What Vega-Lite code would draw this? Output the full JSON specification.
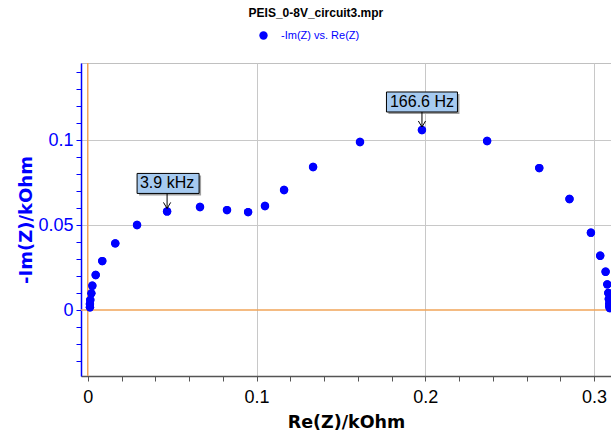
{
  "$schema": "https://vega.github.io/schema/vega-lite/v6.json",
  "width": 530,
  "height": 313,
  "autosize": {"type": "none"},
  "padding": {"left": 81, "top": 63, "right": 0, "bottom": 58},
  "background": "white",
  "title": {"text": "PEIS_0-8V_circuit3.mpr", "fontSize": 12, "fontWeight": "bold", "font": "Liberation Sans", "color": "black", "anchor": "middle", "frame": "bounds", "offset": 10},
  "config": {"view": {"stroke": "#c0c0c0"}, "font": "Liberation Sans"},
  "datasets": {
    "points": [
      {"re": 0.0013, "im": 0.0016}, {"re": 0.0013, "im": 0.0035}, {"re": 0.0015, "im": 0.0059},
      {"re": 0.0021, "im": 0.0098}, {"re": 0.0027, "im": 0.0143}, {"re": 0.0047, "im": 0.0206},
      {"re": 0.0086, "im": 0.0288}, {"re": 0.0163, "im": 0.0392}, {"re": 0.0292, "im": 0.0500},
      {"re": 0.0470, "im": 0.0580}, {"re": 0.0665, "im": 0.0606}, {"re": 0.0825, "im": 0.0588},
      {"re": 0.0950, "im": 0.0576}, {"re": 0.1050, "im": 0.0612}, {"re": 0.1163, "im": 0.0706},
      {"re": 0.1335, "im": 0.0841}, {"re": 0.1613, "im": 0.0988}, {"re": 0.1980, "im": 0.1059},
      {"re": 0.2366, "im": 0.0994}, {"re": 0.2675, "im": 0.0835}, {"re": 0.2854, "im": 0.0653},
      {"re": 0.2981, "im": 0.0455}, {"re": 0.3036, "im": 0.0319}, {"re": 0.3068, "im": 0.0225},
      {"re": 0.3078, "im": 0.0151}, {"re": 0.3084, "im": 0.0100}, {"re": 0.3087, "im": 0.0065},
      {"re": 0.3090, "im": 0.0040}, {"re": 0.3090, "im": 0.0024}, {"re": 0.3092, "im": 0.0012}
    ],
    "notes": [
      {"re": 0.0470, "im": 0.0580, "label": "3.9 kHz"},
      {"re": 0.1980, "im": 0.1059, "label": "166.6 Hz"}
    ],
    "zero": [{"v": 0}]
  },
  "layer": [
    {
      "data": {"name": "points"},
      "mark": {"type": "point", "filled": true, "size": 70, "opacity": 1},
      "encoding": {
        "x": {
          "field": "re", "type": "quantitative",
          "scale": {"domain": [-0.004, 0.31], "nice": false, "zero": false},
          "axis": {
            "title": "Re(Z)/kOhm",
            "values": [0, 0.02, 0.04, 0.06, 0.08, 0.1, 0.12, 0.14, 0.16, 0.18, 0.2, 0.22, 0.24, 0.26, 0.28, 0.3],
            "tickCount": 1000,
            "format": ".2~f",
            "labelOverlap": false,
            "labelExpr": "abs(datum.value*10-round(datum.value*10))<1e-6 ? datum.label : ''",
            "labelFont": "Liberation Sans", "labelFontSize": 18, "labelColor": "#000000", "labelPadding": 7,
            "titleFont": "DejaVu Sans", "titleFontSize": 17.5, "titleFontWeight": "bold", "titleColor": "#000000", "titlePadding": 7,
            "tickSize": 5, "tickColor": "#555555", "domainColor": "#555555", "domainWidth": 1.5,
            "grid": true, "gridColor": "#c8c8c8", "gridWidth": 1,
            "gridOpacity": {"condition": {"test": "abs(datum.value*10-round(datum.value*10))<1e-6 && datum.value > 0", "value": 1}, "value": 0}
          }
        },
        "y": {
          "field": "im", "type": "quantitative",
          "scale": {"domain": [-0.0388, 0.1453], "nice": false, "zero": false},
          "axis": {
            "title": "-Im(Z)/kOhm",
            "values": [-0.03, -0.02, -0.01, 0, 0.01, 0.02, 0.03, 0.04, 0.05, 0.06, 0.07, 0.08, 0.09, 0.1, 0.11, 0.12, 0.13, 0.14],
            "tickCount": 1000,
            "format": ".2~f",
            "labelOverlap": false,
            "labelExpr": "abs(datum.value*20-round(datum.value*20))<1e-6 ? datum.label : ''",
            "labelFont": "Liberation Sans", "labelFontSize": 18, "labelColor": "#0000ff", "labelPadding": 3,
            "titleFont": "DejaVu Sans", "titleFontSize": 18, "titleFontWeight": "bold", "titleColor": "#0000ff", "titlePadding": 2,
            "tickSize": 5, "tickColor": "#0000ff", "domainColor": "#0000ff", "domainWidth": 1.5,
            "grid": true, "gridColor": "#c8c8c8", "gridWidth": 1,
            "gridOpacity": {"condition": {"test": "abs(datum.value*20-round(datum.value*20))<1e-6 && datum.value > 0", "value": 1}, "value": 0}
          }
        },
        "color": {
          "datum": "-Im(Z) vs. Re(Z)",
          "scale": {"range": ["#0000ff"]},
          "legend": {"orient": "none", "legendX": 177, "legendY": -33, "title": null, "padding": 0,
            "labelColor": "#0000ff", "labelFontSize": 11, "labelFont": "Liberation Sans", "labelOffset": 12,
            "symbolSize": 70, "symbolType": "circle", "symbolStrokeWidth": 0}
        }
      }
    },
    {
      "data": {"name": "zero"},
      "mark": {"type": "rule", "color": "#f0a458", "strokeWidth": 1.5},
      "encoding": {"x": {"field": "v", "type": "quantitative"}}
    },
    {
      "data": {"name": "zero"},
      "mark": {"type": "rule", "color": "#f0a458", "strokeWidth": 1.5},
      "encoding": {"y": {"field": "v", "type": "quantitative"}}
    },
    {
      "data": {"name": "points"},
      "mark": {"type": "point", "filled": true, "size": 70, "opacity": 1, "color": "#0000ff"},
      "encoding": {"x": {"field": "re", "type": "quantitative"}, "y": {"field": "im", "type": "quantitative"}}
    },
    {
      "data": {"name": "notes"},
      "transform": [{"filter": "datum.label == '3.9 kHz'"}],
      "mark": {"type": "point", "shape": "M-1,-0.3226H1V0.3226H-1Z", "size": 3844, "filled": true, "color": "#a0a0a0", "opacity": 1, "xOffset": 3, "yOffset": -26},
      "encoding": {"x": {"field": "re", "type": "quantitative"}, "y": {"field": "im", "type": "quantitative"}}
    },
    {
      "data": {"name": "notes"},
      "transform": [{"filter": "datum.label == '3.9 kHz'"}],
      "mark": {"type": "point", "shape": "M-1,-0.3226H1V0.3226H-1Z", "size": 3844, "filled": true, "fill": "#a6caf0", "stroke": "#000000", "strokeWidth": 1, "opacity": 1, "xOffset": 1, "yOffset": -28},
      "encoding": {"x": {"field": "re", "type": "quantitative"}, "y": {"field": "im", "type": "quantitative"}}
    },
    {
      "data": {"name": "notes"},
      "transform": [{"filter": "datum.label == '166.6 Hz'"}],
      "mark": {"type": "point", "shape": "M-1,-0.2817H1V0.2817H-1Z", "size": 5041, "filled": true, "color": "#a0a0a0", "opacity": 1, "xOffset": 2, "yOffset": -26},
      "encoding": {"x": {"field": "re", "type": "quantitative"}, "y": {"field": "im", "type": "quantitative"}}
    },
    {
      "data": {"name": "notes"},
      "transform": [{"filter": "datum.label == '166.6 Hz'"}],
      "mark": {"type": "point", "shape": "M-1,-0.2817H1V0.2817H-1Z", "size": 5041, "filled": true, "fill": "#a6caf0", "stroke": "#000000", "strokeWidth": 1, "opacity": 1, "xOffset": 0, "yOffset": -28},
      "encoding": {"x": {"field": "re", "type": "quantitative"}, "y": {"field": "im", "type": "quantitative"}}
    },
    {
      "data": {"name": "notes"},
      "mark": {"type": "text", "font": "Liberation Sans", "fontSize": 16, "color": "#000000", "align": "center", "baseline": "middle", "yOffset": -28},
      "encoding": {"x": {"field": "re", "type": "quantitative"}, "y": {"field": "im", "type": "quantitative"}, "text": {"field": "label"}}
    },
    {
      "data": {"name": "notes"},
      "mark": {"type": "point", "shape": "M0,-3.75L0,0M-0.9,-1.5L0,0L0.9,-1.5", "size": 64, "filled": false, "stroke": "#000000", "strokeWidth": 1, "opacity": 1, "yOffset": -3},
      "encoding": {"x": {"field": "re", "type": "quantitative"}, "y": {"field": "im", "type": "quantitative"}}
    }
  ]
}
